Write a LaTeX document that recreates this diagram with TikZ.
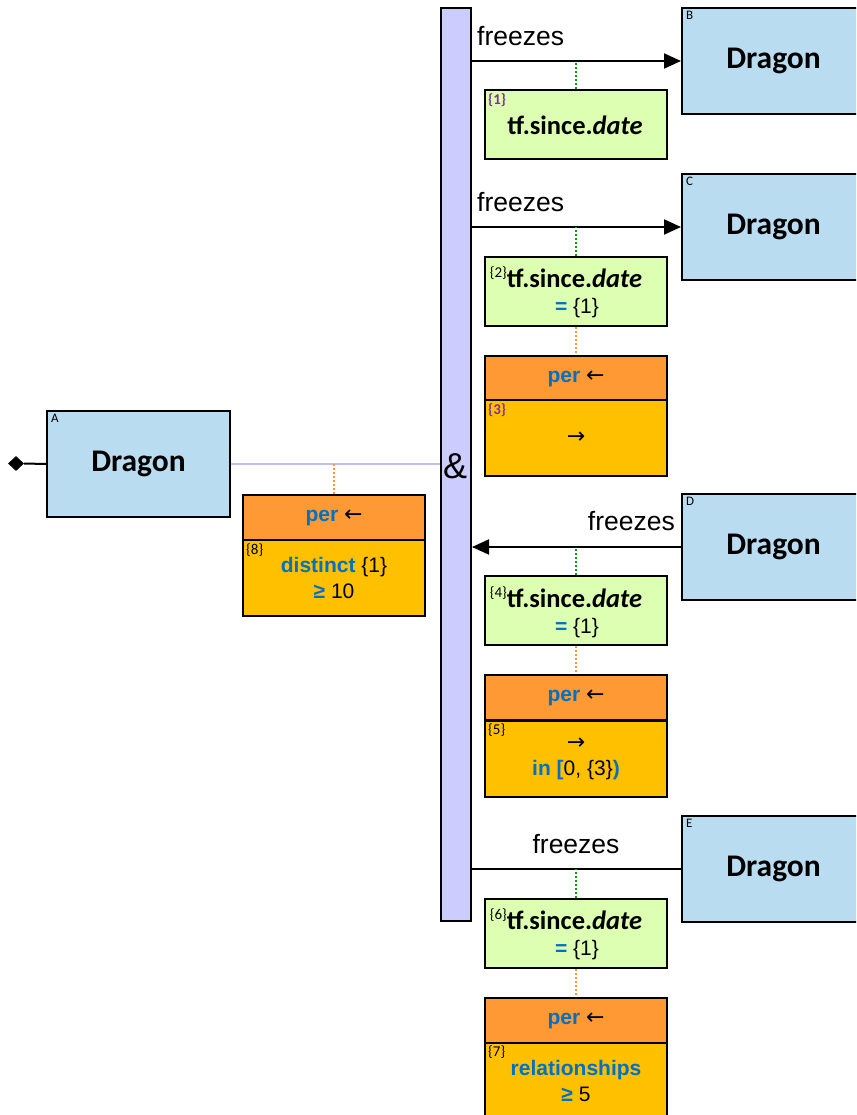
\documentclass[tikz,border=0pt]{standalone}
\usepackage{fontspec}
\setmainfont{Liberation Sans}
\newfontfamily\calfont{Carlito}
\newfontfamily\arrowfont{DejaVu Sans}
\usetikzlibrary{arrows.meta,shapes.geometric}
\definecolor{dragonblue}{RGB}{186,220,241}
\definecolor{condgreen}{RGB}{221,255,178}
\definecolor{perorange}{RGB}{255,153,51}
\definecolor{peryellow}{RGB}{255,192,0}
\definecolor{barblue}{RGB}{204,204,255}
\definecolor{textblue}{RGB}{0,112,192}
\definecolor{idxpurple}{RGB}{128,48,160}
\definecolor{dotgreen}{RGB}{0,160,0}
\definecolor{dotorange}{RGB}{255,150,50}
\definecolor{lavline}{RGB}{190,190,245}
\newcommand\supidx[1]{\raisebox{10pt}{\fontsize{15}{16}\selectfont\mdseries\upshape\{#1\}}}
\newcommand\larr{{\arrowfont\fontsize{22}{22}\selectfont ←}}
\newcommand\rarr{{\arrowfont\fontsize{22}{22}\selectfont →}}
\newcommand\perhead{{\color{textblue}\bfseries per} \larr}
\newcommand\kw[1]{{\color{textblue}\bfseries #1}}
\begin{document}
\begin{tikzpicture}[x=1pt,y=-1pt,
  box/.style={draw=black, line width=2pt, anchor=north west, inner sep=0pt},
  dragonbox/.style={box, fill=dragonblue, minimum width=183pt, minimum height=106pt, font=\calfont\bfseries\fontsize{31.5}{34}\selectfont},
  condbox/.style={box, fill=condgreen, minimum width=182pt, minimum height=69pt},
  perhd/.style={box, fill=perorange, minimum width=182pt, minimum height=45pt, font=\fontsize{21}{24}\selectfont},
  perbd/.style={box, fill=peryellow, minimum width=182pt, minimum height=76pt, align=center, font=\fontsize{21}{26}\selectfont},
  barbox/.style={box, fill=barblue, minimum width=30pt, minimum height=913pt},
  letter/.style={anchor=north west, inner sep=0pt, font=\calfont\fontsize{13}{14}\selectfont},
  idx/.style={anchor=north west, inner sep=0pt, font=\calfont\fontsize{15}{16}\selectfont},
  pidx/.style={anchor=north west, inner sep=0pt, text=idxpurple, font=\calfont\bfseries\fontsize{15}{16}\selectfont},
  condtxt/.style={inner sep=0pt, font=\calfont\bfseries\fontsize{26.5}{28}\selectfont},
  plaintxt/.style={inner sep=0pt, font=\fontsize{21}{24}\selectfont},
  frz/.style={inner sep=0pt, font=\fontsize{26.5}{28}\selectfont},
  rel/.style={line width=2pt},
  arr/.style={rel, -{Triangle[length=17pt,width=15pt]}},
  gdot/.style={draw=dotgreen, line width=2pt, dash pattern=on 2pt off 2pt},
  odot/.style={draw=dotorange, line width=2pt, dash pattern=on 2pt off 2pt}
]
\clip (0,0) rectangle (856,1115);
% bar
\node[barbox] (bar) at (440,7) {};
% Dragon boxes
\node[dragonbox] (A) at (46,410) {Dragon};
\node[dragonbox] (B) at (681,7) {Dragon};
\node[dragonbox] (C) at (681,173) {Dragon};
\node[dragonbox] (D) at (681,493) {Dragon};
\node[dragonbox] (E) at (681,815) {Dragon};
\node[letter] (lA) at ([xshift=5pt,yshift=-4pt]A.north west) {A};
\node[letter] (lB) at ([xshift=5pt,yshift=-4pt]B.north west) {B};
\node[letter] (lC) at ([xshift=5pt,yshift=-4pt]C.north west) {C};
\node[letter] (lD) at ([xshift=5pt,yshift=-4pt]D.north west) {D};
\node[letter] (lE) at ([xshift=5pt,yshift=-4pt]E.north west) {E};
% start diamond
\node[diamond, fill=black, inner sep=0pt, minimum width=16pt, minimum height=15pt] (start) at (16,463.5) {};
\draw[rel] (start.east) -- (A.west);
% A to bar
\draw[draw=lavline, line width=1.8pt] (A.east) -- (A.east -| bar.west);
\node[inner sep=0pt, font=\fontsize{36}{38}\selectfont] (amp) at (455,466) {\&};
% relations
\draw[arr] (B.west -| bar.east) -- (B.west);
\draw[arr] (C.west -| bar.east) -- (C.west);
\draw[arr] (D.west) -- (D.west -| bar.east);
\draw[rel] (E.west -| bar.east) -- (E.west);
\node[frz, anchor=west] (fB) at (477,36) {freezes};
\node[frz, anchor=west] (fC) at (477,202) {freezes};
\node[frz, anchor=east] (fD) at (675,521) {freezes};
\node[frz] (fE) at (576,844) {freezes};
% condition boxes
\node[condbox] (g1) at (484,89) {};
\node[condbox] (g2) at (484,256) {};
\node[condbox] (g4) at (484,575) {};
\node[condbox] (g6) at (484,898) {};
\draw[gdot] (g1.north) -- (g1.north |- B.west);
\draw[gdot] (g2.north) -- (g2.north |- C.west);
\draw[gdot] (g4.north) -- (g4.north |- D.west);
\draw[gdot] (g6.north) -- (g6.north |- E.west);
\node[pidx] (i1) at (488,93) {\{1\}};
\node[condtxt] (t1) at (575,125) {tf.since.\textit{date}};
\node[condtxt] (t2) at (566,277) {\supidx{2}tf.since.\textit{date}};
\node[plaintxt] (e2) at (577,308) {\kw{=} \{1\}};
\node[condtxt] (t4) at (566,597) {\supidx{4}tf.since.\textit{date}};
\node[plaintxt] (e4) at (577,628) {\kw{=} \{1\}};
\node[condtxt] (t6) at (566,919) {\supidx{6}tf.since.\textit{date}};
\node[plaintxt] (e6) at (577,950) {\kw{=} \{1\}};
% per boxes
\node[perhd] (p3h) at (484,355) {\perhead};
\node[perbd] (p3b) at (484,399) {\rarr};
\node[pidx] (i3) at (488,403) {\{3\}};
\node[perhd] (p8h) at (242,494) {\perhead};
\node[perbd] (p8b) at (242,539) {\kw{distinct} \{1\}\\\kw{≥} 10};
\node[idx] (i8) at (246,543) {\{8\}};
\node[perhd] (p5h) at (484,674) {\perhead};
\node[perbd] (p5b) at (484,720) {\rarr\\\kw{in [}0, \{3\}\kw{)}};
\node[idx] (i5) at (488,723) {\{5\}};
\node[perhd] (p7h) at (484,997) {\perhead};
\node[perbd] (p7b) at (484,1042) {\kw{relationships}\\\kw{≥} 5};
\node[idx] (i7) at (488,1045) {\{7\}};
\draw[odot] (g2.south) -- (p3h.north);
\draw[odot] (g4.south) -- (p5h.north);
\draw[odot] (g6.south) -- (p7h.north);
\draw[odot] (p8h.north) -- (p8h.north |- A.east);
\end{tikzpicture}
\end{document}
